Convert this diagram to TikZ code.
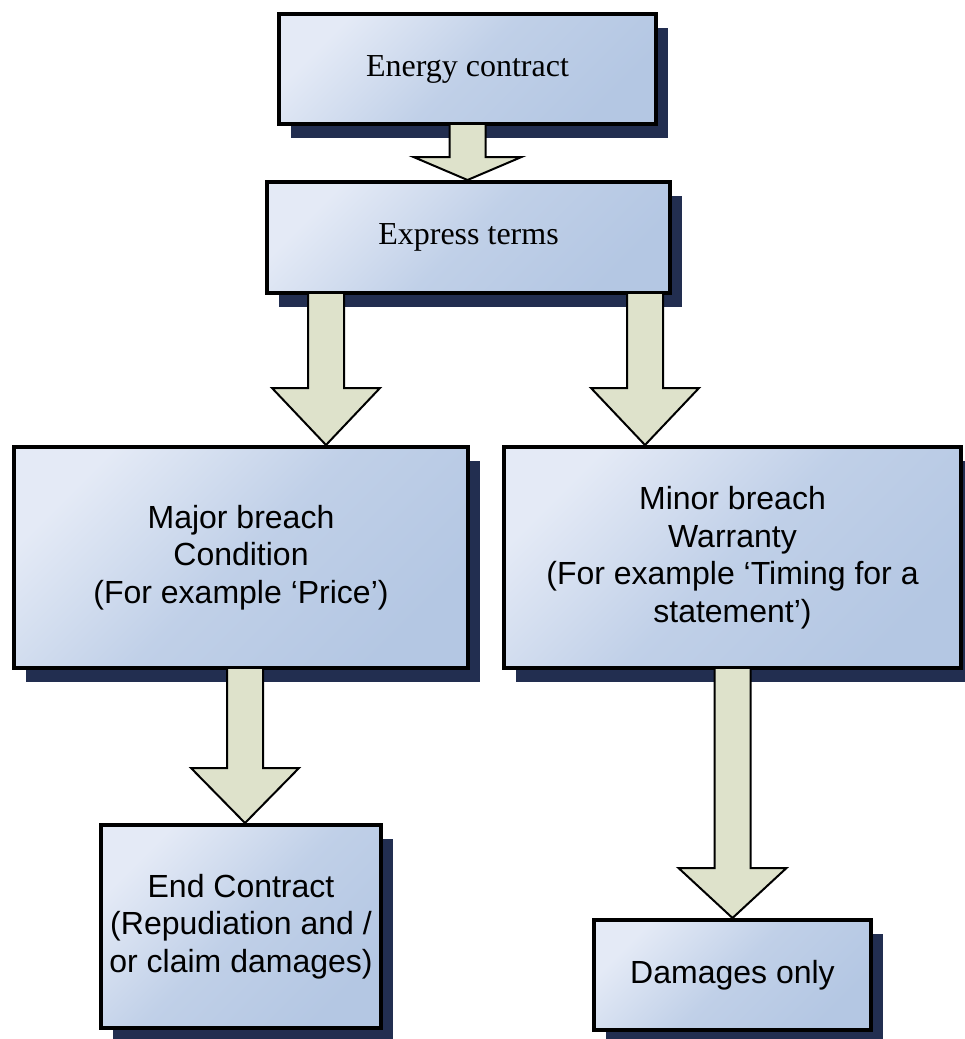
\documentclass[tikz,border=0pt]{standalone}
\usepackage{xcolor}
\usepackage{fontspec}
\setmainfont{Liberation Serif}
\setsansfont{Liberation Sans}
\usetikzlibrary{calc,shadows}

\definecolor{boxlight}{RGB}{228,234,246}
\definecolor{boxblue}{RGB}{180,199,227}
\definecolor{shadowblue}{RGB}{34,46,80}
\definecolor{arrowfill}{RGB}{222,226,203}

% block arrow: [head length]{start on source}{target anchor}
\newcommand{\blockarrow}[3][55]{%
\filldraw [arrowbody] let \p1=(#2), \p2=(#3) in
  (\x1-18pt,\y1+1pt) -- (\x1-18pt,\y2+#1pt) -- (\x1-54pt,\y2+#1pt) -- (\x1,\y2)
  -- (\x1+54pt,\y2+#1pt) -- (\x1+18pt,\y2+#1pt) -- (\x1+18pt,\y1+1pt);}

\begin{document}
\begin{tikzpicture}[x=1pt,y=1pt,
  box/.style={draw=black, line width=4pt, top color=boxlight, bottom color=boxblue,
    middle color=boxblue!75!boxlight, shading angle=45, inner sep=0pt, align=center,
    drop shadow={shadow xshift=12pt, shadow yshift=-14pt, fill=shadowblue, opacity=1}},
  serifbox/.style={box, font=\rmfamily\fontsize{32}{37.5}\selectfont},
  sansbox/.style={box, font=\sffamily\fontsize{32}{37.5}\selectfont},
  arrowbody/.style={draw=black, fill=arrowfill, line width=2pt, line join=miter}]
\useasboundingbox (0,0) rectangle (965,-1039);

\node [serifbox, minimum width=377pt, minimum height=110pt] (energy) at (467.5,-69) {Energy contract};
\node [serifbox, minimum width=403pt, minimum height=111pt] (express) at (468.5,-237.5) {Express terms};
\node [sansbox, minimum width=454pt, minimum height=221pt] (major) at (241,-557.5)
  {Major breach\\Condition\\(For example ‘Price’)};
\node [sansbox, minimum width=457pt, minimum height=221pt] (minor) at (732.5,-557.5)
  {Minor breach\\Warranty\\(For example ‘Timing for a\\statement’)};
\node [sansbox, minimum width=280pt, minimum height=203pt] (endc) at (241,-926.5)
  {End Contract\\(Repudiation and /\\or claim damages)};
\node [sansbox, minimum width=277pt, minimum height=110pt] (damages) at (732.5,-975) {Damages only};

\blockarrow[23]{energy.south}{express.north}
\blockarrow[57]{$(express.south)+(-142.5,0)$}{major.north}
\blockarrow[57]{$(express.south)+(176.5,0)$}{minor.north}
\blockarrow[55]{$(major.south)+(4,0)$}{endc.north}
\blockarrow[50]{minor.south}{damages.north}
\end{tikzpicture}
\end{document}
